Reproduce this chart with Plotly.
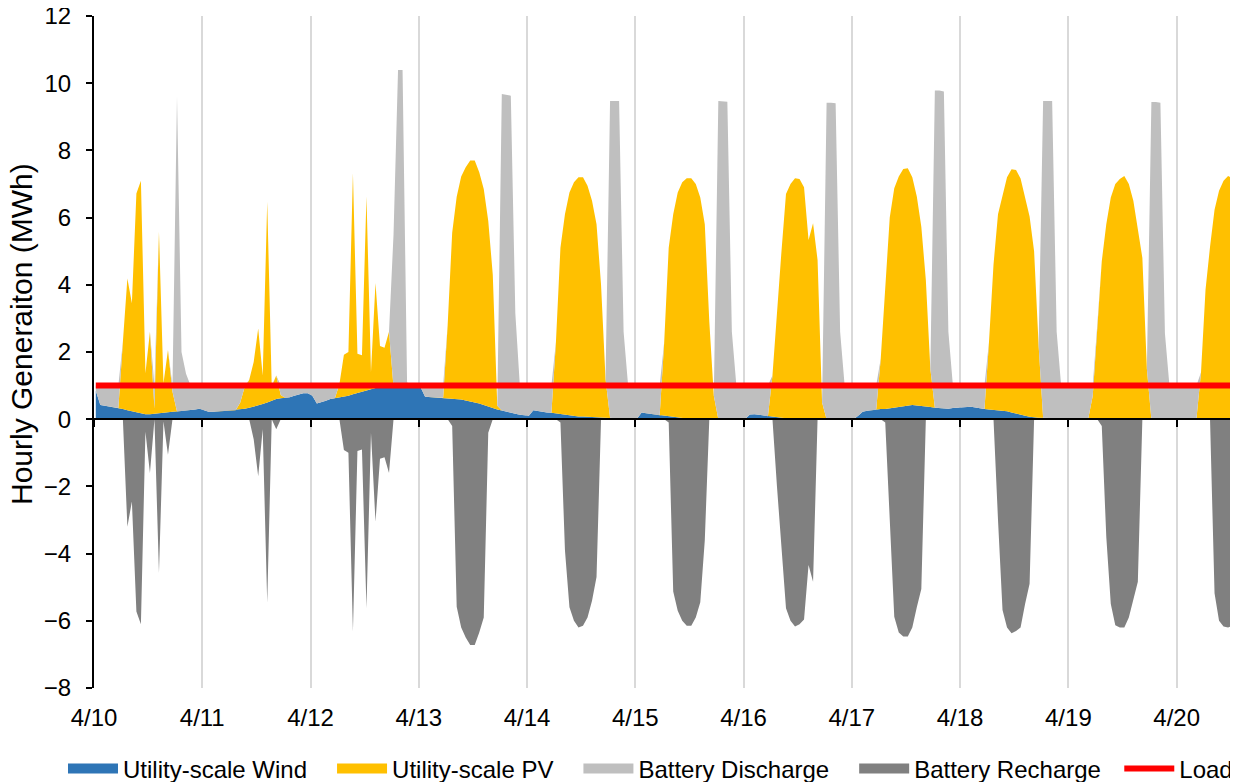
import plotly.graph_objects as go

# ---------------- data (hourly, 4/10 00:00 onward) ----------------
day_labels = ["4/10", "4/11", "4/12", "4/13", "4/14", "4/15", "4/16", "4/17", "4/18", "4/19", "4/20"]

wind_by_day = [
    [0.85,0.42,0.40,0.38,0.36,0.33,0.30,0.27,0.24,0.20,0.17,0.15,0.15,0.17,0.19,0.20,0.21,0.22,0.23,0.24,0.25,0.27,0.29,0.31],
    [0.26,0.22,0.22,0.23,0.24,0.25,0.26,0.27,0.29,0.31,0.34,0.37,0.40,0.45,0.50,0.55,0.60,0.62,0.63,0.65,0.70,0.74,0.77,0.77],
    [0.70,0.47,0.50,0.55,0.60,0.62,0.64,0.66,0.70,0.74,0.78,0.83,0.87,0.90,0.93,0.95,0.95,0.95,0.95,0.95,0.95,0.95,0.95,0.95],
    [0.95,0.67,0.66,0.65,0.65,0.64,0.63,0.62,0.61,0.59,0.56,0.53,0.51,0.47,0.42,0.37,0.33,0.29,0.26,0.22,0.19,0.16,0.13,0.11],
    [0.10,0.27,0.24,0.22,0.20,0.19,0.17,0.15,0.13,0.11,0.09,0.08,0.08,0.07,0.06,0.05,0.05,0.04,0.04,0.03,0.03,0.02,0.02,0.02],
    [0.02,0.20,0.18,0.16,0.14,0.12,0.10,0.09,0.07,0.05,0.03,0.02,0.01,0.01,0.00,0.00,0.00,0.00,0.00,0.00,0.00,0.00,0.00,0.01],
    [0.01,0.14,0.15,0.13,0.11,0.09,0.07,0.05,0.04,0.03,0.02,0.01,0.00,0.00,0.00,0.00,0.00,0.00,0.00,0.00,0.00,0.00,0.00,0.00],
    [0.00,0.10,0.22,0.25,0.27,0.28,0.30,0.30,0.32,0.35,0.38,0.40,0.42,0.42,0.41,0.40,0.38,0.36,0.34,0.33,0.31,0.31,0.33,0.34],
    [0.35,0.38,0.37,0.35,0.32,0.30,0.29,0.28,0.27,0.26,0.24,0.20,0.16,0.13,0.10,0.07,0.05,0.04,0.04,0.03,0.03,0.03,0.02,0.02],
    [0.02,0.02,0.02,0.02,0.01,0.01,0.01,0.00,0.00,0.00,0.00,0.00,0.00,0.00,0.00,0.00,0.00,0.00,0.00,0.00,0.00,0.00,0.00,0.00],
    [0.01,0.02,0.03,0.03,0.03,0.02,0.02,0.01,0.01,0.00,0.00,0.00,0.00,0.00],
]

pv_by_day = [
    [0,0,0,0,0,0,2.00,3.92,3.21,6.52,6.93,1.22,2.45,0.15,5.39,0.87,1.85,0.60,0,0,0,0,0,0],
    [0,0,0,0,0,0,0,0,0.20,0.65,0.83,1.33,2.30,0.85,5.97,0.42,0.70,0.10,0,0,0,0,0,0],
    [0,0,0,0,0,0,0.40,1.26,1.30,6.58,1.17,1.07,5.76,0.50,3.12,1.23,1.18,1.65,0,0,0,0,0,0],
    [0,0,0,0,0,0,2.17,4.93,6.01,6.63,6.94,7.17,7.19,6.88,6.43,5.53,3.97,0.11,0,0,0,0,0,0],
    [0,0,0,0,0,0,2.13,4.95,5.97,6.64,6.96,7.12,7.12,6.88,6.44,5.75,3.95,1.16,0,0,0,0,0,0],
    [0,0,0,0,0,0,2.20,5.01,6.03,6.70,7.02,7.15,7.16,6.99,6.60,5.80,2.90,0.70,0,0,0,0,0,0],
    [0,0,0,0,0,0,1.23,3.25,4.96,6.67,6.98,7.16,7.15,6.90,5.33,5.83,4.74,0.50,0,0,0,0,0,0],
    [0,0,0,0,0,0,1.50,3.60,5.68,6.52,6.84,7.05,7.05,6.78,6.22,5.33,3.76,1.14,0,0,0,0,0,0],
    [0,0,0,0,0,0,2.01,4.32,5.83,6.44,6.96,7.24,7.26,7.03,6.53,5.96,4.95,2.16,0,0,0,0,0,0],
    [0,0,0,0,0,0.69,2.79,4.70,5.80,6.60,7.00,7.15,7.24,7.00,6.50,5.60,4.80,1.50,0,0,0,0,0,0],
    [0,0,0,0,0,1.38,3.83,5.12,6.22,6.80,7.10,7.24,7.17,6.70],
]

discharge_by_day = [
    [0.15,0.58,0.60,0.62,0.64,0.67,0,0,0,0,0,0,0,0.68,0,0,0,0.18,9.37,1.76,1.10,0.73,0.71,0.69],
    [0.74,0.78,0.78,0.77,0.76,0.75,0.74,0.73,0.51,0.04,0,0,0,0,0,0.03,0,0.28,0.37,0.35,0.30,0.26,0.23,0.23],
    [0.30,0.53,0.50,0.45,0.40,0.38,0,0,0,0,0,0,0,0,0,0,0,0,4.55,9.44,9.44,0.15,0.05,0.05],
    [0.05,0.33,0.34,0.35,0.35,0.36,0,0,0,0,0,0,0,0,0,0,0,0,9.42,9.43,9.44,2.99,0.87,0.89],
    [0.90,0.73,0.76,0.78,0.80,0.81,0,0,0,0,0,0,0,0,0,0,0,0,9.43,9.44,9.44,2.58,0.98,0.98],
    [0.98,0.80,0.82,0.84,0.86,0.88,0,0,0,0,0,0,0,0,0,0,0,0,9.47,9.47,9.45,2.60,1.00,0.99],
    [0.99,0.86,0.85,0.87,0.89,0.91,0,0,0,0,0,0,0,0,0,0,0,0,9.42,9.42,9.40,2.60,1.00,1.00],
    [1.00,0.90,0.78,0.75,0.73,0.72,0,0,0,0,0,0,0,0,0,0,0,0,9.44,9.45,9.44,2.29,0.67,0.66],
    [0.65,0.62,0.63,0.65,0.68,0.70,0,0,0,0,0,0,0,0,0,0,0,0,9.43,9.44,9.44,2.57,0.97,0.98],
    [0.98,0.98,0.98,0.98,0.99,0.30,0,0,0,0,0,0,0,0,0,0,0,0,9.44,9.44,9.42,2.56,1.00,1.00],
    [0.99,0.98,0.97,0.97,0.97,0,0,0,0,0,0,0,0,0],
]

recharge_by_day = [
    [0,0,0,0,0,0,0,-3.20,-2.45,-5.72,-6.10,-0.37,-1.60,0,-4.58,-0.07,-1.06,0,0,0,0,0,0,0],
    [0,0,0,0,0,0,0,0,0,0,0,-0.60,-1.70,-0.30,-5.47,0,-0.30,0,0,0,0,0,0,0],
    [0,0,0,0,0,0,0,-0.92,-1.00,-6.32,-0.95,-0.90,-5.63,-0.40,-3.05,-1.18,-1.13,-1.60,0,0,0,0,0,0],
    [0,0,0,0,0,0,0,-0.20,-5.58,-6.20,-6.50,-6.72,-6.72,-6.35,-5.90,-0.40,0,0,0,0,0,0,0,0],
    [0,0,0,0,0,0,0,-0.10,-3.90,-5.60,-6.00,-6.20,-6.15,-5.90,-5.40,-4.70,0,0,0,0,0,0,0,0],
    [0,0,0,0,0,0,0,-0.10,-5.13,-5.70,-6.00,-6.15,-6.15,-5.90,-5.45,-3.60,0,0,0,0,0,0,0,0],
    [0,0,0,0,0,0,0,-2.00,-3.90,-5.63,-6.00,-6.17,-6.10,-5.96,-4.34,-4.84,0,0,0,0,0,0,0,0],
    [0,0,0,0,0,0,0,-0.10,-3.00,-5.88,-6.35,-6.47,-6.47,-6.20,-5.60,-5.05,0,0,0,0,0,0,0,0],
    [0,0,0,0,0,0,0,0,-3.00,-5.68,-6.20,-6.37,-6.30,-6.20,-5.50,-4.90,0,0,0,0,0,0,0,0],
    [0,0,0,0,0,0,0,-0.20,-3.50,-5.50,-6.13,-6.20,-6.20,-5.90,-5.40,-4.84,0,0,0,0,0,0,0,0],
    [0,0,0,0,0,0,0,0,-5.18,-6.00,-6.17,-6.20,-6.15,-6.00],
]

load_level = 1.0  # MWh, constant hourly load
y_title = "Hourly Generaiton (MWh)"
series_names = ["Utility-scale Wind", "Utility-scale PV", "Battery Discharge", "Battery Recharge", "Load"]
series_colors = ["#2E75B6", "#FFC000", "#BFBFBF", "#808080", "#FF0000"]


def flat(by_day):
    return [v for day in by_day for v in day]


wind = flat(wind_by_day)
pv = flat(pv_by_day)
discharge = flat(discharge_by_day)
recharge = flat(recharge_by_day)
n_hours = len(wind)
load = [load_level] * n_hours

# category-style placement: each hourly point sits slightly right of its hour boundary
x = [h + 0.4 for h in range(n_hours)]
tick_vals = [24 * i for i in range(len(day_labels))]

FONT = "Liberation Sans, Arial, sans-serif"
NBSP = "\u00a0"
legend_pad = [3, 3, 3, 2, 0]  # trailing spacing to mimic the wider legend gaps

# The page body adds an 8px margin, so the figure is sized 8px smaller than the window
W, H = 1230, 774

fig = go.Figure()
area_specs = [(wind, "pos"), (pv, "pos"), (discharge, "pos"), (recharge, "neg")]
for (vals, grp), name, col in zip(area_specs, series_names, series_colors):
    fig.add_trace(go.Scatter(x=x, y=vals, name=name, mode="lines", stackgroup=grp,
                             line=dict(width=0, color=col), fillcolor=col,
                             showlegend=False, hoverinfo="skip"))

# legend entries (thick swatches, as in the original legend)
for i in range(4):
    fig.add_trace(go.Scatter(x=[None], y=[None], mode="lines",
                             name=series_names[i] + NBSP * legend_pad[i],
                             line=dict(width=13, color=series_colors[i]),
                             hoverinfo="skip"))

fig.add_trace(go.Scatter(x=x, y=load, name=series_names[4], mode="lines",
                         line=dict(width=6, color=series_colors[4]),
                         xaxis="x2", yaxis="y", hoverinfo="skip"))

fig.update_layout(
    width=W, height=H,
    margin=dict(l=86, r=0, t=8, b=94, autoexpand=False),
    paper_bgcolor="white", plot_bgcolor="white",
    font=dict(family=FONT, size=24, color="black"),
    showlegend=True,
    legend=dict(orientation="h", xref="paper", yref="paper",
                x=-0.0271, y=-0.1205, xanchor="left", yanchor="middle",
                font=dict(size=24), traceorder="normal",
                itemwidth=50, bgcolor="rgba(0,0,0,0)"),
    xaxis=dict(range=[0, 253.6], tickmode="array", tickvals=tick_vals,
               ticktext=day_labels, showgrid=True, gridcolor="#D9D9D9",
               gridwidth=2, zeroline=False, showline=False, ticks="",
               automargin=False,
               ticklabelstandoff=13, tickfont=dict(size=24)),
    xaxis2=dict(overlaying="x", matches="x", anchor="free", position=0.4,
                range=[0, 253.6], tickmode="array", tickvals=tick_vals,
                showticklabels=False, showgrid=False, zeroline=False,
                automargin=False,
                showline=True, linecolor="black", linewidth=2,
                ticks="outside", ticklen=7, tickwidth=2, tickcolor="black"),
    yaxis=dict(range=[-8, 12], dtick=2, tick0=0, showgrid=False, zeroline=False,
               showline=True, linecolor="black", linewidth=2,
               ticks="outside", ticklen=6, tickwidth=2, tickcolor="black",
               automargin=False, ticklabeloverflow="allow",
               ticklabelstandoff=10, tickfont=dict(size=24)),
    annotations=[dict(text=y_title, textangle=-90, xref="paper", yref="paper",
                      x=-0.0629, y=0.5268, xanchor="center", yanchor="middle",
                      showarrow=False, font=dict(size=30))],
)

fig.write_html("out.html")
